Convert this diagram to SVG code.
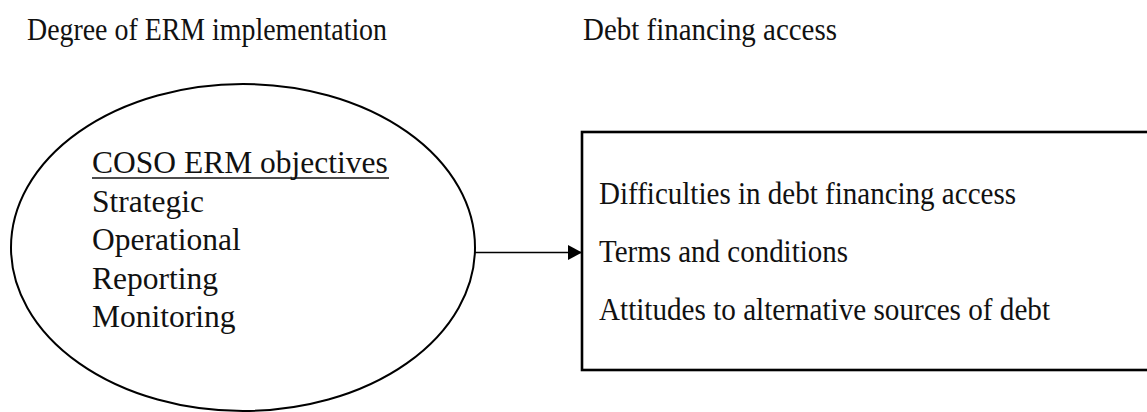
<svg xmlns="http://www.w3.org/2000/svg" width="1147" height="412" viewBox="0 0 1147 412">
<style>
text{font-family:"Liberation Serif","Times New Roman",serif;fill:#111}
.t{font-size:32px}
.e{font-size:31.5px}
.shape{fill:#fff;stroke:#000}
</style>
<defs>
<marker id="ah" markerWidth="14" markerHeight="15" refX="14" refY="7.5" orient="auto" markerUnits="userSpaceOnUse">
<path d="M0,0 L14,7.5 L0,15 Z" fill="#000"/>
</marker>
</defs>
<rect width="1147" height="412" fill="#fff"/>
<g id="titles">
<text class="t" x="27" y="40" textLength="360" lengthAdjust="spacingAndGlyphs">Degree of ERM implementation</text>
<text class="t" x="583" y="40" textLength="254" lengthAdjust="spacingAndGlyphs">Debt financing access</text>
</g>
<g id="node-erm">
<ellipse class="shape" cx="243" cy="247.5" rx="232" ry="163.5" stroke-width="2"/>
<text class="e" x="92" y="173">COSO ERM objectives</text>
<line x1="92" y1="178" x2="389" y2="178" stroke="#111" stroke-width="1.5"/>
<text class="e" x="92" y="211.5">Strategic</text>
<text class="e" x="92" y="250">Operational</text>
<text class="e" x="92" y="288.5">Reporting</text>
<text class="e" x="92" y="327">Monitoring</text>
</g>
<g id="node-debt">
<rect class="shape" x="582" y="132" width="620" height="238" stroke-width="2.6"/>
<text class="t" x="599" y="204" textLength="417" lengthAdjust="spacingAndGlyphs">Difficulties in debt financing access</text>
<text class="t" x="599" y="262" textLength="249" lengthAdjust="spacingAndGlyphs">Terms and conditions</text>
<text class="t" x="599" y="320" textLength="451" lengthAdjust="spacingAndGlyphs">Attitudes to alternative sources of debt</text>
</g>
<g id="connectors">
<line x1="475" y1="252.5" x2="582" y2="252.5" stroke="#000" stroke-width="1.3" marker-end="url(#ah)"/>
</g>
</svg>
